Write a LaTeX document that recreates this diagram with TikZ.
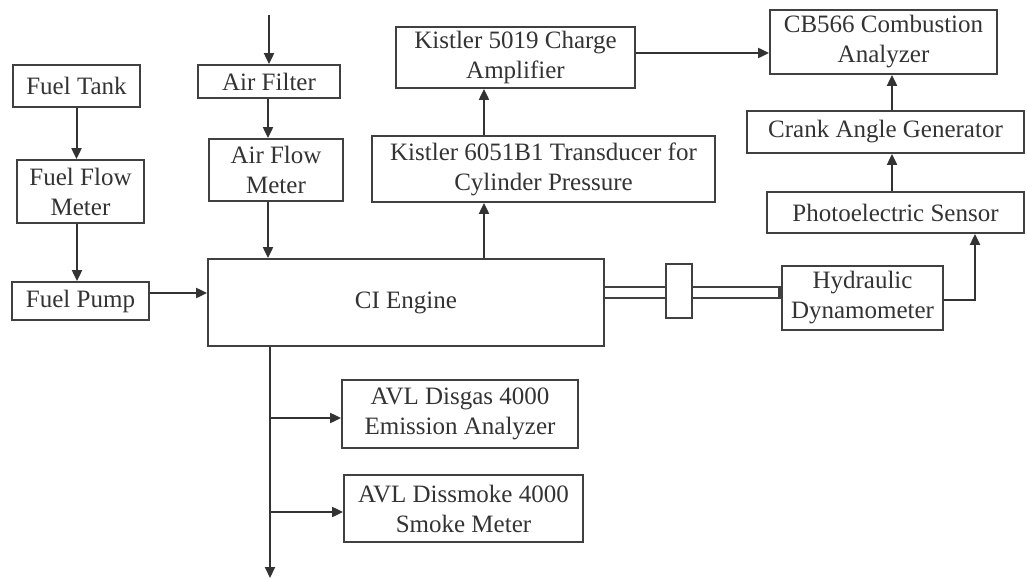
\documentclass[tikz,border=0pt]{standalone}
\usepackage{fontspec}
\setmainfont{Liberation Serif}
\usetikzlibrary{arrows.meta,calc}
\begin{document}
\begin{tikzpicture}[x=1pt,y=-1pt,
  box/.style={draw=black!75,line width=1.8pt,rectangle,inner sep=0pt,align=center,
    font=\fontsize{25}{30}\selectfont,text=black!80},
  arr/.style={draw=black!80,line width=2pt,-{Triangle[length=11pt,width=10pt]}},
  ln/.style={draw=black!75,line width=1.8pt}]
\useasboundingbox (0,0) rectangle (1027,578);
\node[box,minimum width=127pt,minimum height=42pt] (tank) at (76.5,86) {Fuel Tank};
\node[box,minimum width=127pt,minimum height=63pt] (ffm) at (80.5,191.5) {Fuel Flow\\Meter};
\node[box,minimum width=137pt,minimum height=38pt] (pump) at (80.5,301) {Fuel Pump};
\node[box,minimum width=142pt,minimum height=33pt] (filter) at (269,81.5) {Air Filter};
\node[box,minimum width=134pt,minimum height=62pt] (afm) at (276,170) {Air Flow\\Meter};
\node[box,minimum width=396pt,minimum height=87pt] (engine) at (406,302.5) {CI Engine};
\node[box,minimum width=343pt,minimum height=66pt] (k6051) at (543.5,169) {Kistler 6051B1 Transducer for\\Cylinder Pressure};
\node[box,minimum width=239pt,minimum height=61pt] (k5019) at (515.5,57.5) {Kistler 5019 Charge\\Amplifier};
\node[box,minimum width=227pt,minimum height=64pt] (cb) at (883.5,42) {CB566 Combustion\\Analyzer};
\node[box,minimum width=277pt,minimum height=42pt] (crank) at (885.5,132) {Crank Angle Generator};
\node[box,minimum width=257pt,minimum height=41pt] (photo) at (895.5,212.5) {Photoelectric Sensor};
\node[box,minimum width=161pt,minimum height=64pt] (dyn) at (862.5,298) {Hydraulic\\Dynamometer};
\node[box,minimum width=26pt,minimum height=54pt] (coup) at (679,291) {};
\node[box,minimum width=236pt,minimum height=68pt] (disgas) at (460,414) {AVL Disgas 4000\\Emission Analyzer};
\node[box,minimum width=239pt,minimum height=67pt] (smoke) at (463.5,508.5) {AVL Dissmoke 4000\\Smoke Meter};
% helper coordinates
\coordinate (airin) at (269,15);
\coordinate (cx) at (484,0);
\coordinate (px) at (892,0);
\coordinate (dx) at (975,0);
\coordinate (ex) at (270,0);
\coordinate (eout) at (270,578);
\coordinate (b1) at (270,418);
\coordinate (b2) at (270,512);
\coordinate (s1) at (0,287);
\coordinate (s2) at (0,298);
% fuel and air
\draw[arr] (airin) -- (airin |- filter.north);
\draw[arr] ([xshift=-1pt]filter.south) -- ([xshift=-1pt]filter.south |- afm.north);
\draw[arr] ([xshift=-8pt]afm.south) -- ([xshift=-8pt]afm.south |- engine.north);
\draw[arr] (tank.south) -- (tank.south |- ffm.north);
\draw[arr] ([xshift=-3.5pt]ffm.south) -- ([xshift=-3.5pt]ffm.south |- pump.north);
\draw[arr] ([yshift=8pt]pump.east) -- ([yshift=8pt]pump.east -| engine.west);
% pressure chain
\draw[arr] (engine.north -| cx) -- (k6051.south -| cx);
\draw[arr] (k6051.north -| cx) -- (k5019.south -| cx);
\draw[arr] ([yshift=4.5pt]k5019.east) -- ([yshift=4.5pt]k5019.east -| cb.west);
% crank chain
\draw[arr] (photo.north -| px) -- (crank.south -| px);
\draw[arr] (crank.north -| px) -- (cb.south -| px);
\draw[arr] ([yshift=-2pt]dyn.east) -| (photo.south -| dx);
% shaft
\draw[ln] (engine.east |- s1) -- (coup.west |- s1);
\draw[ln] (engine.east |- s2) -- (coup.west |- s2);
\draw[ln] (coup.east |- s1) -- (dyn.west |- s1);
\draw[ln] (coup.east |- s2) -- (dyn.west |- s2);
\draw[ln,line width=3pt] ([xshift=-1.5pt]dyn.west |- s1) -- ([xshift=-1.5pt]dyn.west |- s2);
% exhaust
\draw[arr] (engine.south -| ex) -- (eout);
\draw[arr] (b1) -- (b1 -| disgas.west);
\draw[arr] (b2) -- (b2 -| smoke.west);
\end{tikzpicture}
\end{document}
